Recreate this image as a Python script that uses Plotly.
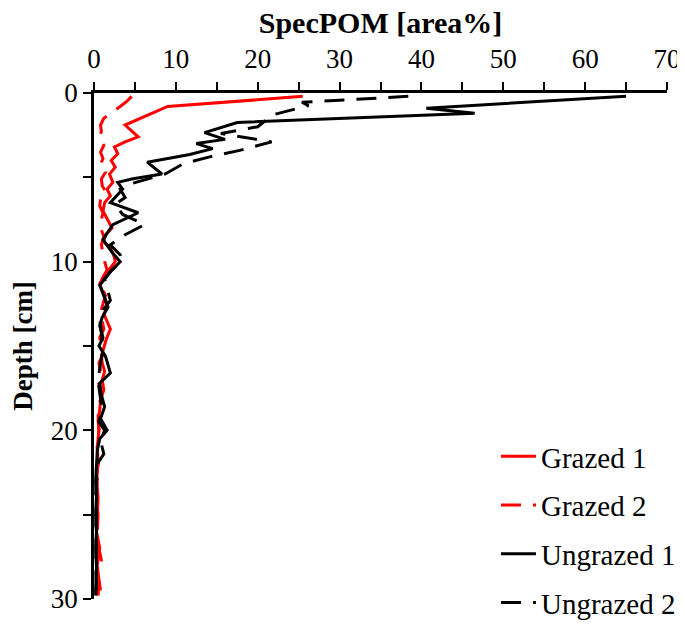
import plotly.graph_objects as go

# Grazed 1 (red solid)
g1_depth = [0.2, 0.8, 1.9, 2.6, 2.9, 3.2, 3.6, 4.0, 4.4, 4.8, 5.3, 5.7, 6.1, 6.5, 7.0, 7.5, 8.0, 8.4, 8.8, 9.2, 9.6, 10.0, 10.4, 10.8, 11.3, 11.7, 12.2, 12.7, 13.1, 13.5, 14.0, 14.6, 15.1, 15.6, 16.0, 16.5, 17.0, 17.6, 18.2, 18.8, 19.4, 20.0, 21, 22, 23, 24, 25, 26, 27, 28, 29, 29.8]
g1_pom = [25.5, 9.0, 3.8, 5.4, 3.8, 2.5, 2.9, 2.1, 2.6, 1.9, 2.3, 1.6, 2.0, 1.3, 1.1, 1.6, 2.2, 1.4, 1.2, 2.0, 2.4, 2.6, 2.0, 1.3, 0.7, 1.0, 1.4, 1.7, 1.2, 1.6, 2.0, 1.5, 1.2, 0.9, 1.0, 1.3, 1.0, 1.2, 0.8, 0.7, 0.5, 0.6, 0.4, 0.5, 0.3, 0.5, 0.4, 0.3, 0.7, 0.4, 0.6, 0.5]

# Grazed 2 (red dashed)
g2_depth = [0.2, 0.5, 0.8, 1.2, 1.5, 1.9, 2.3, 2.7, 3.1, 3.5, 3.9, 4.3, 4.7, 5.1, 5.5, 5.9, 6.3, 6.7, 7.1, 7.5, 8.0, 8.5, 9.0, 9.5, 10.0, 10.5, 11.0, 11.5, 12.0, 12.5, 13.0, 13.5, 14.0, 14.5, 15.0, 15.5, 16.0, 16.5, 17.0, 17.5, 18.0, 18.5, 19.0, 20, 21, 22, 23, 24, 25, 26, 27, 27.7, 28.5, 29.5]
g2_pom = [4.6, 4.0, 3.2, 2.0, 1.2, 0.8, 0.9, 0.6, 1.2, 0.8, 1.1, 0.7, 1.4, 0.9, 1.0, 1.5, 0.8, 0.7, 1.1, 0.9, 0.8, 1.2, 0.9, 1.1, 1.3, 1.6, 1.0, 0.9, 1.4, 1.1, 0.8, 1.0, 1.2, 0.7, 0.9, 1.1, 0.6, 0.8, 0.5, 0.7, 0.9, 0.6, 0.5, 0.6, 0.4, 0.5, 0.4, 0.3, 0.5, 0.4, 0.6, 0.9, 0.5, 0.8]

# Ungrazed 1 (black solid)
u1_depth = [0.2, 0.9, 1.2, 1.75, 2.35, 2.75, 3.0, 3.3, 3.65, 4.1, 4.8, 5.1, 5.3, 5.7, 6.5, 7.1, 7.8, 8.7, 9.5, 10.0, 10.6, 11.4, 12.0, 12.7, 13.3, 13.8, 14.5, 15.0, 15.6, 16.6, 17.2, 17.9, 18.6, 19.3, 20.0, 20.5, 21.2, 22, 23, 24, 25, 26, 27, 28, 29, 29.8]
u1_pom = [65.0, 40.6, 46.5, 17.5, 13.5, 16.0, 12.5, 14.5, 11.7, 6.5, 8.3, 4.6, 2.9, 3.5, 2.0, 5.4, 2.3, 1.1, 2.3, 3.2, 2.0, 0.7, 1.2, 1.7, 1.0, 0.7, 1.1, 0.6, 1.4, 2.0, 0.7, 0.9, 1.3, 0.8, 1.6, 0.7, 0.4, 0.3, 0.2, 0.3, 0.2, 0.3, 0.2, 0.3, 0.2, 0.2]

# Ungrazed 2 (black dashed)
u2_depth = [0.2, 0.55, 0.75, 1.3, 2.0, 2.4, 2.9, 3.4, 3.8, 4.2, 4.8, 5.4, 5.7, 6.2, 6.6, 7.2, 7.8, 8.4, 9.0, 9.6, 10.0, 10.5, 11.0, 11.6, 12.3, 12.8, 13.4, 14.2, 15.2, 16.0, 17.0, 17.8, 18.8, 19.5, 20.0, 20.6, 21.4, 22, 23, 24, 25, 26, 27, 28, 29, 29.8]
u2_pom = [38.4, 25.4, 26.2, 21.8, 20.0, 15.5, 21.7, 17.8, 14.0, 10.9, 8.7, 4.4, 3.2, 3.8, 2.6, 3.5, 6.2, 3.8, 2.0, 3.2, 3.3, 2.2, 1.3, 1.6, 2.0, 1.2, 0.7, 0.9, 1.1, 0.8, 0.5, 0.7, 1.0, 0.6, 1.3, 0.8, 1.2, 0.4, 0.3, 0.2, 0.3, 0.2, 0.3, 0.2, 0.3, 0.2]

x_ticks = [0, 10, 20, 30, 40, 50, 60, 70]
y_ticks = [0, 10, 20, 30]

FONT = "Liberation Serif"
DASH = "20px,12px"

series = [
    ("Grazed 1", g1_pom, g1_depth, "#FF0000", "solid"),
    ("Grazed 2", g2_pom, g2_depth, "#FF0000", DASH),
    ("Ungrazed 1", u1_pom, u1_depth, "#000000", "solid"),
    ("Ungrazed 2", u2_pom, u2_depth, "#000000", DASH),
]

fig = go.Figure()
for name, xs, ys, col, dash in series:
    fig.add_trace(go.Scatter(
        x=xs, y=ys, mode="lines", name=name, legendgroup=name,
        line=dict(color=col, width=3, dash=dash),
    ))

# the page body adds an 8px offset, so the figure is 8px smaller
fig.update_layout(
    width=677, height=621,
    margin=dict(l=86, r=18, t=85, b=30, autoexpand=False),
    paper_bgcolor="white", plot_bgcolor="white",
    font=dict(family=FONT, size=26, color="black"),
    title=dict(
        text="<b>SpecPOM [area%]</b>", font=dict(family=FONT, size=30, color="black"),
        xref="paper", x=0.5, xanchor="center",
        yref="container", y=0.976, yanchor="middle",
    ),
    showlegend=True,
    legend=dict(
        x=0.7015, y=0.332, xanchor="left", yanchor="top",
        bgcolor="rgba(255,255,255,0)", tracegroupgap=8,
        font=dict(family=FONT, size=29, color="black"),
        itemwidth=35,
    ),
    xaxis=dict(
        side="top", range=[0, 70], tickvals=x_ticks,
        ticks="outside", ticklen=8, tickwidth=2, tickcolor="black",
        minor=dict(dtick=5, ticks="outside", ticklen=8, tickwidth=2, tickcolor="black"),
        showline=True, linecolor="black", linewidth=2.5,
        showgrid=False, zeroline=False,
        ticklabelstandoff=3,
        tickfont=dict(family=FONT, size=27),
    ),
    yaxis=dict(
        range=[30, 0], tickvals=y_ticks,
        ticks="outside", ticklen=8, tickwidth=2, tickcolor="black",
        minor=dict(dtick=5, ticks="outside", ticklen=8, tickwidth=2, tickcolor="black"),
        showline=True, linecolor="black", linewidth=2.5,
        showgrid=False, zeroline=False, automargin=True,
        ticklabelstandoff=0,
        title=dict(text="<b>Depth [cm]</b>", font=dict(family=FONT, size=27), standoff=24),
        tickfont=dict(family=FONT, size=27),
    ),
)

fig.write_html("out.html")
